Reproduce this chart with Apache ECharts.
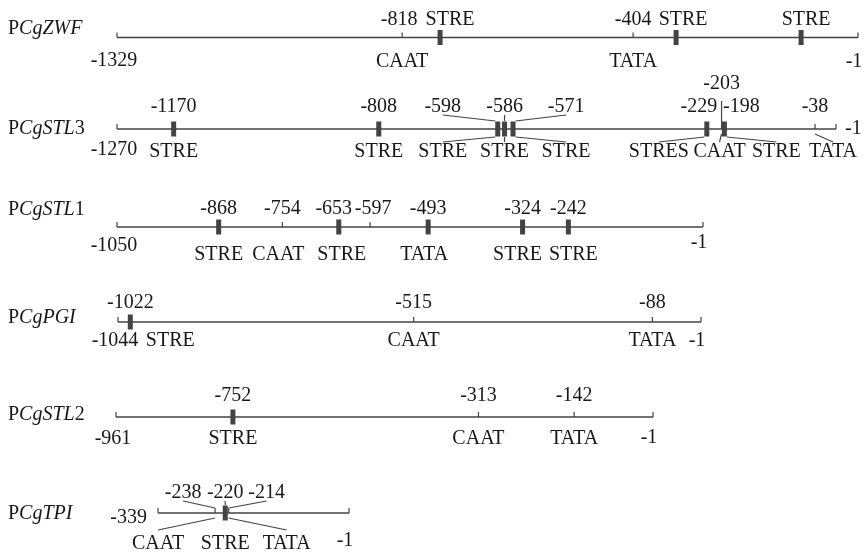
<!DOCTYPE html>
<html>
<head>
<meta charset="utf-8">
<script src="https://cdn.jsdelivr.net/npm/echarts@6/dist/echarts.min.js"></script>
<style>
  html, body { margin: 0; padding: 0; background: #fff; }
  #chart { width: 864px; height: 558px; }
</style>
</head>
<body>
<div id="chart"></div>
<script>
// ---- Promoters (top to bottom) ----
const promoterItalic = ['CgZWF', 'CgSTL', 'CgSTL', 'CgPGI', 'CgSTL', 'CgTPI'];
const promoterSuffix = ['', '3', '1', '', '2', ''];
const promoterStart = [-1329, -1270, -1050, -1044, -961, -339];
const promoterEnd = -1;

// ---- Cis-elements per promoter: position, element name, mark kind ----
// PCgZWF (STRE sites without a printed position are estimated)
const zwfSites = [-818, -750, -404, -327, -103];
const zwfElements = ['CAAT', 'STRE', 'TATA', 'STRE', 'STRE'];
const zwfMarks = ['tick', 'box', 'tick', 'box', 'box'];
const zwfPositionPrinted = [true, false, true, false, false];

// PCgSTL3
const stl3Sites = [-1170, -808, -598, -586, -571, -229, -203, -198, -38];
const stl3Elements = ['STRE', 'STRE', 'STRE', 'STRE', 'STRE', 'STRES', 'CAAT', 'STRE', 'TATA'];
const stl3Marks = ['box', 'box', 'box', 'box', 'box', 'box', 'tick', 'box', 'tick'];

// PCgSTL1
const stl1Sites = [-868, -754, -653, -597, -493, -324, -242];
const stl1Elements = ['STRE', 'CAAT', 'STRE', '', 'TATA', 'STRE', 'STRE'];
const stl1Marks = ['box', 'tick', 'box', 'tick', 'box', 'box', 'box'];

// PCgPGI
const pgiSites = [-1022, -515, -88];
const pgiElements = ['STRE', 'CAAT', 'TATA'];
const pgiMarks = ['box', 'tick', 'tick'];

// PCgSTL2
const stl2Sites = [-752, -313, -142];
const stl2Elements = ['STRE', 'CAAT', 'TATA'];
const stl2Marks = ['box', 'tick', 'tick'];

// PCgTPI
const tpiSites = [-238, -220, -214];
const tpiElements = ['CAAT', 'STRE', 'TATA'];
const tpiMarks = ['tick', 'box', 'tick'];

const rows = [
  { sites: zwfSites,  elements: zwfElements,  marks: zwfMarks, printed: zwfPositionPrinted },
  { sites: stl3Sites, elements: stl3Elements, marks: stl3Marks },
  { sites: stl1Sites, elements: stl1Elements, marks: stl1Marks },
  { sites: pgiSites,  elements: pgiElements,  marks: pgiMarks },
  { sites: stl2Sites, elements: stl2Elements, marks: stl2Marks },
  { sites: tpiSites,  elements: tpiElements,  marks: tpiMarks }
];

// ---- Layout: baseline placement and label offsets (pixels) ----
const rowLayout = [
  { y: 37.5, x0: 117, x1: 858, nameDy: -9,  topDy: -18, botDy: 24, startDy: 23, endDy: 24 },
  { y: 129,  x0: 117, x1: 836, nameDy: 0,   topDy: -22, botDy: 23, startDy: 21, endRight: true, raiseDy: -45 },
  { y: 227,  x0: 117, x1: 703, nameDy: -17, topDy: -18, botDy: 28, startDy: 19, endDy: 16 },
  { y: 322,  x0: 118, x1: 701, nameDy: -4,  topDy: -19, botDy: 19, startDy: 19, endDy: 19 },
  { y: 417,  x0: 116, x1: 653, nameDy: -2,  topDy: -21, botDy: 22, startDy: 22, endDy: 21 },
  { y: 513,  x0: 158, x1: 349, nameDy: 1,   topDy: -20, botDy: 31, startLeft: true, startDy: 5, endDy: 28, leadGap: 14 }
];

// per-site label shifts and leader lines for crowded spots
const labelTweaks = {
  0: { 0: { top: -3 }, 1: { top: 10 }, 3: { top: 7 }, 4: { top: 5 } },
  1: {
    2: { top: -55, bot: -55, topLead: true, botLead: true },
    3: { topLead: true, botLead: true },
    4: { top: 53, bot: 53, topLead: true, botLead: true },
    5: { top: -8, bot: -48, botLead: true },
    6: { raise: true, bot: -2, botLead: true },
    7: { top: 17, bot: 52, botLead: true },
    8: { bot: 18, botLead: true }
  },
  2: { 1: { bot: -4 }, 2: { top: -5, bot: 3 }, 3: { top: 3 }, 4: { bot: -4 }, 5: { bot: -5 }, 6: { bot: 5 } },
  3: { 0: { bot: 40 } },
  5: {
    0: { top: -32, bot: -57, topLead: true, botLead: true },
    1: { topLead: true },
    2: { top: 38, bot: 58, topLead: true, botLead: true }
  }
};

const FONT = '"Liberation Serif", "Times New Roman", serif';
const FS = 20;
const INK = '#181818';
const STROKE = '#434343';
const BOX_HW = 2.5, BOX_HH = 7.5, TICK_H = 5, TALL_TICK_H = 28;

function label(x, y, text, align, extra) {
  const a = align || 'center';
  return {
    type: 'text', silent: true, x: x, y: y,
    style: Object.assign({
      text: text, fill: INK, fontFamily: FONT, fontSize: FS,
      align: a, textAlign: a, verticalAlign: 'middle', textVerticalAlign: 'middle'
    }, extra || {})
  };
}
function seg(x1, y1, x2, y2, w) {
  return { type: 'line', silent: true, shape: { x1: x1, y1: y1, x2: x2, y2: y2 },
           style: { stroke: STROKE, lineWidth: w || 1.2 } };
}

// baseline, end ticks, end positions and promoter name
function baselineRenderer(r) {
  const lay = rowLayout[r];
  return function (params, api) {
    const a = api.coord([api.value(0), 0]);
    const b = api.coord([api.value(1), 0]);
    const y = a[1];
    const kids = [
      seg(a[0], y, b[0], y, 1.6),
      seg(a[0], y, a[0], y - TICK_H),
      seg(b[0], y, b[0], y - TICK_H)
    ];
    if (lay.startLeft) kids.push(label(a[0] - 11, y + lay.startDy, String(api.value(0)), 'right'));
    else kids.push(label(a[0] - 3, y + lay.startDy, String(api.value(0))));
    if (lay.endRight) kids.push(label(b[0] + 9, y, String(api.value(1)), 'left'));
    else kids.push(label(b[0] - 4, y + lay.endDy, String(api.value(1))));
    const rich = {
      u: { fontFamily: FONT, fontSize: FS, fill: INK },
      i: { fontFamily: FONT, fontSize: FS, fill: INK, fontStyle: 'italic' }
    };
    let name = '{u|P}{i|' + promoterItalic[r] + '}';
    if (promoterSuffix[r]) name += '{u|' + promoterSuffix[r] + '}';
    kids.push({
      type: 'text', silent: true, x: 8, y: y + lay.nameDy,
      style: { text: name, rich: rich, fill: INK, fontFamily: FONT, fontSize: FS,
               align: 'left', textAlign: 'left', verticalAlign: 'middle', textVerticalAlign: 'middle' }
    });
    return { type: 'group', children: kids };
  };
}

// one cis-element: its mark, its position above and its name below
function siteRenderer(r) {
  const row = rows[r], lay = rowLayout[r], tw = labelTweaks[r] || {};
  return function (params, api) {
    const i = params.dataIndex;
    const p = api.coord([api.value(0), 0]);
    const mx = p[0], y = p[1];
    const t = tw[i] || {};
    const isBox = row.marks[i] === 'box';
    const kids = [];
    if (isBox) {
      kids.push({ type: 'rect', silent: true,
        shape: { x: mx - BOX_HW, y: y - BOX_HH, width: 2 * BOX_HW, height: 2 * BOX_HH },
        style: { fill: STROKE } });
    } else {
      kids.push(seg(mx, y, mx, y - (t.raise ? TALL_TICK_H : TICK_H)));
    }
    const printed = row.printed ? row.printed[i] : true;
    const name = row.elements[i];
    const topText = printed ? String(api.value(0)) : name;
    const botText = printed ? name : '';
    const dxTop = t.top || 0, dxBot = t.bot || 0;
    const topX = mx + dxTop, botX = mx + dxBot;
    const topY = y + (t.raise ? lay.raiseDy : lay.topDy);
    const botY = y + lay.botDy;
    kids.push(label(topX, topY, topText));
    if (botText) kids.push(label(botX, botY, botText));
    if (t.topLead) {
      const sx = isBox ? mx + Math.sign(dxTop) * BOX_HW : mx;
      const sy = isBox ? y - BOX_HH - 0.5 : y - TICK_H;
      kids.push(seg(sx, sy, topX, topY + 8));
    }
    if (t.botLead) {
      const sx = isBox ? mx + Math.sign(dxBot) * BOX_HW : mx;
      const sy = isBox ? y + BOX_HH + 0.5 : y + 5;
      kids.push(seg(sx, sy, botX, botY - (lay.leadGap || 10)));
    }
    return { type: 'group', children: kids };
  };
}

const series = [];
rows.forEach(function (row, r) {
  series.push({
    type: 'custom', xAxisIndex: r, yAxisIndex: r, silent: true,
    renderItem: baselineRenderer(r),
    data: [[promoterStart[r], promoterEnd]],
    encode: { x: [0, 1] }
  });
  series.push({
    type: 'custom', xAxisIndex: r, yAxisIndex: r, silent: true,
    renderItem: siteRenderer(r),
    data: row.sites.map(function (v) { return [v, 0]; }),
    encode: { x: 0, y: 1 }
  });
});

const chart = echarts.init(document.getElementById('chart'), null, { renderer: 'canvas' });
chart.setOption({
  animation: false,
  backgroundColor: '#ffffff',
  grid: rowLayout.map(function (l) {
    return { left: l.x0, width: l.x1 - l.x0, top: l.y - 10, height: 20 };
  }),
  xAxis: rowLayout.map(function (l, r) {
    return { type: 'value', gridIndex: r, min: promoterStart[r], max: promoterEnd, show: false };
  }),
  yAxis: rowLayout.map(function (l, r) {
    return { type: 'value', gridIndex: r, min: -1, max: 1, show: false };
  }),
  series: series
});
</script>
</body>
</html>
